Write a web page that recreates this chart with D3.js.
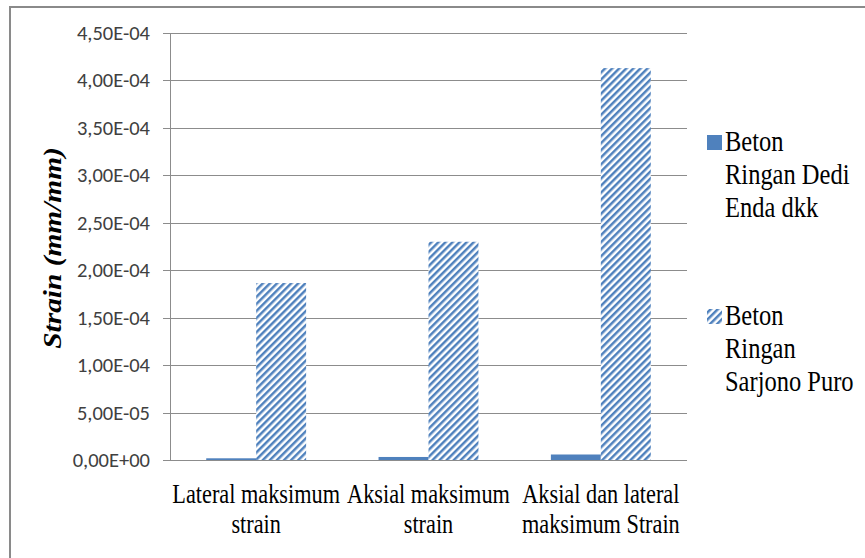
<!DOCTYPE html>
<html>
<head>
<meta charset="utf-8">
<script src="https://cdn.jsdelivr.net/npm/d3@7/dist/d3.min.js"></script>
<style>
  html, body { margin: 0; padding: 0; background: #fff; }
  svg { display: block; }
</style>
</head>
<body>
<svg id="chart" width="865" height="558" font-family="Liberation Serif"></svg>
<script>
// Maximum strain per test, two lightweight-concrete studies
const categories = ["Lateral maksimum strain", "Aksial maksimum strain", "Aksial dan lateral maksimum Strain"];
const categoryLines = [["Lateral maksimum", "strain"], ["Aksial maksimum", "strain"], ["Aksial dan lateral", "maksimum Strain"]];
const seriesNames = ["Beton Ringan Dedi Enda dkk", "Beton Ringan Sarjono Puro"];
const legendLines = [["Beton", "Ringan Dedi", "Enda dkk"], ["Beton", "Ringan", "Sarjono Puro"]];
const dediValues = [1.8e-6, 3.2e-6, 5.8e-6];
const sarjonoValues = [1.865e-4, 2.30e-4, 4.13e-4];
const yTicks = [0, 5e-5, 1e-4, 1.5e-4, 2e-4, 2.5e-4, 3e-4, 3.5e-4, 4e-4, 4.5e-4];
const yTickLabels = ["0,00E+00", "5,00E-05", "1,00E-04", "1,50E-04", "2,00E-04", "2,50E-04", "3,00E-04", "3,50E-04", "4,00E-04", "4,50E-04"];
const yTitle = "Strain (mm/mm)";

const blue = "#4f81bd";
const gridColor = "#8c8c8c";
const serif = '"Liberation Serif"';
const sans = '"Carlito"';
const svg = d3.select("#chart");

// hatch fill for the second series
const defs = svg.append("defs");
const pat = defs.append("pattern")
  .attr("id", "hatch")
  .attr("patternUnits", "userSpaceOnUse")
  .attr("width", 5).attr("height", 5)
  .attr("patternTransform", "rotate(45)");
pat.append("rect").attr("width", 5).attr("height", 5).attr("fill", "#fff");
pat.append("line").attr("x1", 1.25).attr("y1", 0).attr("x2", 1.25).attr("y2", 5)
  .attr("stroke", blue).attr("stroke-width", 2.5);

// outer chart frame
svg.append("rect")
  .attr("x", 10).attr("y", 7).attr("width", 900).attr("height", 600)
  .attr("fill", "none").attr("stroke", "#8a8a8a").attr("stroke-width", 2);

const plot = { left: 170, right: 687, top: 33, bottom: 460 };

const y = d3.scaleLinear().domain([0, 4.5e-4]).range([plot.bottom, plot.top]);
const x0 = d3.scaleBand().domain(categories).range([plot.left, plot.right]).padding(0);
const gapRatio = 1.45;
const barW = x0.step() / (2 + gapRatio);
const x1 = d3.scaleBand().domain([0, 1]).range([0, 2 * barW]).padding(0);

// gridlines, tick marks and tick labels
const grid = svg.append("g");
yTicks.forEach((t, i) => {
  grid.append("line")
    .attr("x1", plot.left - 7).attr("x2", plot.right)
    .attr("y1", Math.round(y(t)) + 0.5).attr("y2", Math.round(y(t)) + 0.5)
    .attr("stroke", gridColor).attr("stroke-width", 1);
  grid.append("text")
    .attr("x", 150).attr("y", y(t) + 7)
    .attr("text-anchor", "end")
    .attr("font-family", "Carlito")
    .attr("font-size", 20.5)
    .style("font-family", sans)
    .style("font-size", "20.5px")
    .style("fill", "#404040")
    .text(yTickLabels[i]);
});
grid.append("line")
  .attr("x1", plot.left + 0.5).attr("x2", plot.left + 0.5)
  .attr("y1", plot.top).attr("y2", plot.bottom)
  .attr("stroke", gridColor).attr("stroke-width", 1);

// bars
const bars = svg.append("g");
categories.forEach((c, i) => {
  const gx = x0(c) + (x0.step() - 2 * barW) / 2;
  bars.append("rect")
    .attr("x", gx + x1(0)).attr("width", x1.bandwidth())
    .attr("y", y(dediValues[i])).attr("height", y(0) - y(dediValues[i]))
    .attr("fill", blue);
  bars.append("rect")
    .attr("x", gx + x1(1)).attr("width", x1.bandwidth())
    .attr("y", y(sarjonoValues[i])).attr("height", y(0) - y(sarjonoValues[i]))
    .attr("fill", "url(#hatch)");
});

// category labels
categories.forEach((c, i) => {
  const cx = x0(c) + x0.step() / 2;
  categoryLines[i].forEach((line, j) => {
    svg.append("text")
      .attr("transform", `translate(${cx},${503 + j * 30}) scale(1,1.18)`)
      .attr("text-anchor", "middle")
      .style("font-family", serif)
      .style("font-size", "22.3px")
      .text(line);
  });
});

// y-axis title
svg.append("text")
  .attr("transform", "translate(61,248) scale(1,1.13) rotate(-90)")
  .attr("text-anchor", "middle")
  .style("font-family", serif)
  .style("font-weight", "bold")
  .style("font-style", "italic")
  .style("font-size", "26px")
  .text(yTitle);

// legend
const legend = svg.append("g");
const legendTops = [151, 325];
seriesNames.forEach((s, k) => {
  const base = legendTops[k];
  legend.append("rect")
    .attr("x", 707).attr("y", base - 16).attr("width", 15).attr("height", 15)
    .attr("fill", k === 0 ? blue : "url(#hatch)");
  legendLines[k].forEach((line, j) => {
    legend.append("text")
      .attr("transform", `translate(725,${base + j * 33}) scale(1,1.2)`)
      .style("font-family", serif)
      .style("font-size", "24.5px")
      .text(line);
  });
});
</script>
</body>
</html>
